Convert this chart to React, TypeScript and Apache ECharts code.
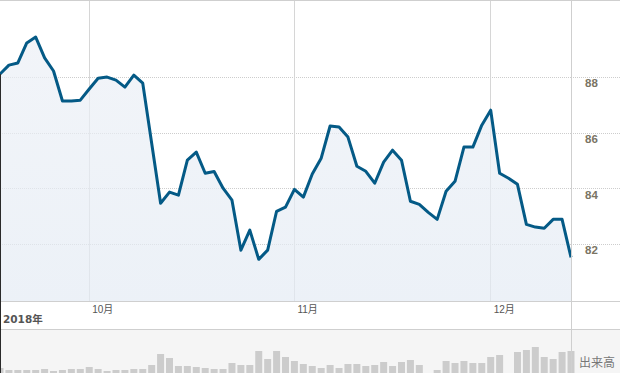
import React, { useEffect, useRef } from "react";
import * as echarts from "echarts";

const dates = [
  "9/17", "9/18", "9/19", "9/20", "9/21", "9/24", "9/25", "9/26", "9/27", "9/28",
  "10/1", "10/2", "10/3", "10/4", "10/5", "10/8", "10/9", "10/10", "10/11", "10/12",
  "10/15", "10/16", "10/17", "10/18", "10/19", "10/22", "10/23", "10/24", "10/25", "10/26",
  "10/29", "10/30", "10/31",
  "11/1", "11/2", "11/5", "11/6", "11/7", "11/8", "11/9", "11/12", "11/13", "11/14",
  "11/15", "11/16", "11/19", "11/20", "11/21", "11/22", "11/23", "11/26", "11/27", "11/28",
  "11/29", "11/30",
  "12/3", "12/4", "12/5", "12/6", "12/7", "12/10", "12/11", "12/12", "12/13", "12/14",
];

const prices = [
  88.12, 88.44, 88.52, 89.24, 89.45, 88.7, 88.23, 87.15, 87.15, 87.18,
  87.58, 87.97, 88.01, 87.9, 87.65, 88.08, 87.79, 85.63, 83.47, 83.87,
  83.76, 85.02, 85.31, 84.55, 84.61, 84.01, 83.58, 81.78, 82.5, 81.45,
  81.78, 83.18, 83.33, 83.97, 83.69, 84.52, 85.09, 86.25, 86.21, 85.85,
  84.8, 84.62, 84.19, 84.95, 85.38, 85.02, 83.54, 83.43, 83.14, 82.89,
  83.9, 84.26, 85.49, 85.49, 86.28, 86.82, 84.55, 84.37, 84.15, 82.71,
  82.61, 82.57, 82.89, 82.89, 81.52,
];

const volumes = [
  5, 3, 3, 3, 3, 4, 2, 3, 4, 4,
  6, 4, 2, 3, 3, 4, 4, 8, 19, 15,
  7, 7, 6, 5, 4, 4, 10, 8, 8, 22,
  14, 22, 16, 12, 9, 7, 5, 8, 5, 9,
  9, 7, 8, 11, 7, 11, 13, 8, 0, 3,
  12, 10, 12, 10, 10, 16, 18, 0, 21, 23,
  26, 16, 14, 21, 22,
];

const priceTicks = [82, 84, 86, 88];
const monthLabels: Record<string, string> = { "10/1": "10月", "11/1": "11月", "12/3": "12月" };
const yearLabel = "2018年";
const volumeLabel = "出来高";

const W = 620;
const H = 373;
const PLOT_RIGHT = 571;
const PRICE_TOP = 1;
const PRICE_BOTTOM = 301;
const VOL_TOP = 330;
const PRICE_MIN = 79.95;
const PRICE_MAX = 90.75;
const VOL_MAX = 43;

export default function App() {
  const ref = useRef<HTMLDivElement>(null);

  useEffect(() => {
    if (!ref.current) return;
    const chart = echarts.init(ref.current, null, { renderer: "svg" });
    const isMonth = (_i: number, v: string) => v in monthLabels;
    const lineColor = "#cfcfcf";
    const dotted = { type: "dotted", color: "#cdcdcd", width: 1 };

    chart.setOption({
      animation: false,
      backgroundColor: "#ffffff",
      grid: [
        { left: 0, top: PRICE_TOP, width: PLOT_RIGHT, height: PRICE_BOTTOM - PRICE_TOP },
        { left: PLOT_RIGHT, top: PRICE_TOP, width: W - PLOT_RIGHT, height: PRICE_BOTTOM - PRICE_TOP },
        {
          left: 0, top: VOL_TOP, width: PLOT_RIGHT, height: H - VOL_TOP,
          show: true, backgroundColor: "#f5f5f5", borderWidth: 0,
        },
      ],
      xAxis: [
        {
          gridIndex: 0, type: "category", data: dates, boundaryGap: false,
          axisLine: { show: false }, axisTick: { show: false },
          axisLabel: {
            interval: isMonth,
            formatter: (v: string) => monthLabels[v] || "",
            align: "left", margin: 3, padding: [0, 0, 0, 3],
            fontSize: 10, color: "#555555",
            fontFamily: "'Liberation Sans', 'Noto Sans CJK JP', sans-serif",
          },
          splitLine: { show: true, interval: isMonth, lineStyle: { color: "#d6d6d6", width: 1, type: "solid" } },
        },
        { gridIndex: 1, type: "value", min: 0, max: 1, show: false },
        {
          gridIndex: 2, type: "category", data: dates, boundaryGap: false,
          axisLine: { show: false }, axisTick: { show: false }, axisLabel: { show: false },
          splitLine: { show: false },
        },
      ],
      yAxis: [
        {
          gridIndex: 0, type: "value", min: PRICE_MIN, max: PRICE_MAX, position: "right",
          axisLine: { show: false },
          axisTick: { show: false, customValues: priceTicks },
          axisLabel: { show: false, customValues: priceTicks },
          splitLine: { show: true, lineStyle: dotted },
        },
        {
          gridIndex: 1, type: "value", min: PRICE_MIN, max: PRICE_MAX, position: "left",
          axisLine: { show: false },
          axisTick: { show: false, customValues: priceTicks },
          axisLabel: {
            customValues: priceTicks, inside: true, margin: 14, verticalAlign: "top",
            fontSize: 11.5, fontWeight: "bold", color: "#7a7464",
            fontFamily: "'Liberation Sans', Arial, sans-serif",
          },
          splitLine: { show: true, lineStyle: dotted },
        },
        {
          gridIndex: 2, type: "value", min: 0, max: VOL_MAX, show: false,
          splitLine: { show: false },
        },
      ],
      series: [
        {
          type: "line", xAxisIndex: 0, yAxisIndex: 0, data: prices,
          symbol: "none", smooth: false,
          lineStyle: { color: "#045a86", width: 3, join: "round" },
          areaStyle: {
            origin: "start",
            color: new echarts.graphic.LinearGradient(0, 0, 0, 1, [
              { offset: 0, color: "#ecf0f6" },
              { offset: 1, color: "#e4ebf4" },
            ]),
          },
          z: 3,
        },
        {
          type: "bar", xAxisIndex: 2, yAxisIndex: 2, data: volumes,
          barWidth: 7, itemStyle: { color: "#cccccc" }, clip: true,
        },
      ],
      graphic: [
        {
          type: "rect", silent: true, z: 1,
          shape: { x: PLOT_RIGHT, y: VOL_TOP, width: W - PLOT_RIGHT, height: H - VOL_TOP },
          style: { fill: "#f5f5f5" },
        },
        {
          type: "line", silent: true, z: 10,
          shape: { x1: 0, y1: 0.5, x2: W, y2: 0.5 },
          style: { stroke: lineColor, lineWidth: 1 },
        },
        {
          type: "line", silent: true, z: 10,
          shape: { x1: 0, y1: PRICE_BOTTOM + 0.5, x2: W, y2: PRICE_BOTTOM + 0.5 },
          style: { stroke: lineColor, lineWidth: 1 },
        },
        {
          type: "line", silent: true, z: 10,
          shape: { x1: 0, y1: VOL_TOP - 0.5, x2: W, y2: VOL_TOP - 0.5 },
          style: { stroke: lineColor, lineWidth: 1 },
        },
        {
          type: "line", silent: true, z: 10,
          shape: { x1: PLOT_RIGHT + 0.5, y1: 0, x2: PLOT_RIGHT + 0.5, y2: H },
          style: { stroke: lineColor, lineWidth: 1 },
        },
        {
          type: "line", silent: true, z: 10,
          shape: { x1: 0.5, y1: 74, x2: 0.5, y2: H },
          style: { stroke: "#2a2a2a", lineWidth: 1 },
        },
        {
          type: "text", silent: true, z: 10, x: 3, y: 318.5,
          style: {
            text: yearLabel, fill: "#555555", fontSize: 10.5, fontWeight: "bold",
            fontFamily: "'DejaVu Sans', 'Noto Sans CJK JP', sans-serif",
            verticalAlign: "middle", align: "left",
          },
        },
        {
          type: "text", silent: true, z: 10, x: 597, y: 361,
          style: {
            text: volumeLabel, fill: "#777777", fontSize: 12,
            fontFamily: "'Noto Sans CJK JP', sans-serif",
            verticalAlign: "middle", align: "center",
          },
        },
      ],
    });

    return () => chart.dispose();
  }, []);

  return (
    <div
      ref={ref}
      style={{ position: "absolute", left: 0, top: 0, width: W, height: H }}
    />
  );
}
